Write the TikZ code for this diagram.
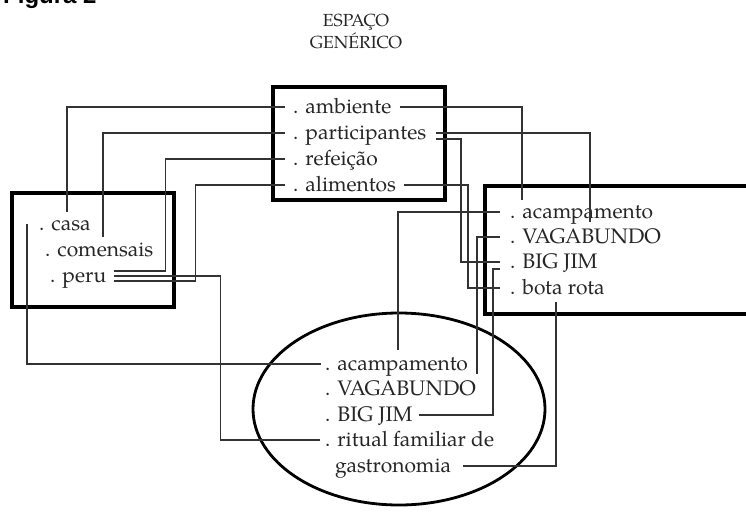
\documentclass[tikz,border=0pt]{standalone}
\usepackage{fontspec}
\setmainfont{TeX Gyre Pagella}
\newfontfamily\figfont{Liberation Sans}
\usetikzlibrary{calc}
\begin{document}
\begin{tikzpicture}[x=1pt,y=-1pt,
  item/.style={inner sep=0pt, text height=12pt, text depth=0pt, anchor=west,
               font=\fontsize{21}{25}\selectfont, text=black!85},
  titletext/.style={inner sep=0pt, anchor=base, font=\fontsize{17.5}{21}\selectfont, text=black!85},
  conn/.style={line width=1.7pt, draw=black!80},
  frame/.style={line width=3.7pt, draw=black},
]
\useasboundingbox (0,0) rectangle (746,514);

% figure label (cut by the top edge, as in the reference)
\node[anchor=base west, inner sep=0pt, font=\figfont\bfseries\fontsize{24}{24}\selectfont] (fig) at (3,4) {Figura 2};

% title
\node[titletext] (t1) at (356,27) {ESPAÇO};
\node[titletext] (t2) at (356,48) {GENÉRICO};

% frames
\draw[frame] (273,87) rectangle (445,200);
\draw[frame] (12,193) rectangle (174,307);
\draw[frame] (485,186) rectangle (770,314);
\draw[line width=2.8pt] (399,409) ellipse [x radius=146, y radius=96];

% generic space items
\node[item] (amb) at (293,107) {. ambiente};
\node[item] (par) at (293,133) {. participantes};
\node[item] (ref) at (293,159) {. refeição};
\node[item] (ali) at (293,185) {. alimentos};

% left input
\node[item] (casa) at (39,224) {. casa};
\node[item] (com) at (45,250) {. comensais};
\node[item] (peru) at (50,276) {. peru};

% right input
\node[item] (racamp) at (510,212) {. acampamento};
\node[item] (rvag) at (510,237) {. VAGABUNDO};
\node[item] (rbig) at (510,262) {. BIG JIM};
\node[item] (rbota) at (510,288) {. bota rota};

% blend
\node[item] (eacamp) at (325,364) {. acampamento};
\node[item] (evag) at (325,389) {. VAGABUNDO};
\node[item] (ebig) at (325,415) {. BIG JIM};
\node[item] (erit) at (325,440) {. ritual familiar de};
\node[item] (egas) at (335,466) {gastronomia};

% helper end points
\coordinate (casaT) at ($(casa.west)+(28,-12)$);
\coordinate (comT) at ($(com.west)+(58,-13)$);
\coordinate (peruA) at ($(peru.east)+(8,-5)$);
\coordinate (peruB) at ($(peru.east)+(8,0)$);
\coordinate (peruC) at ($(peru.east)+(8,5)$);
\coordinate (racT) at ($(racamp.west)+(12,-12)$);
\coordinate (rvagT) at ($(rvag.west)+(80,-15)$);
\coordinate (rbigL) at ($(rbig.west)+(-10,0)$);
\coordinate (rbotaL) at ($(rbota.west)+(-10,0)$);
\coordinate (eacT) at ($(eacamp.west)+(73,-14)$);
\coordinate (evagT) at ($(evag.west)+(152,-15)$);
\coordinate (ebigR) at ([xshift=6pt]ebig.east);
\coordinate (rbotaB) at ($(rbota.west)+(46,14)$);

% connectors, left side
\draw[conn] ([xshift=-8pt]amb.west) -| (casaT);
\draw[conn] ([xshift=-8pt]par.west) -| (comT);
\draw[conn] ([xshift=-8pt]ref.west) -| ([xshift=51pt]peruA) -- (peruA);
\draw[conn] ([xshift=-8pt]ali.west) -| ([xshift=81pt]peruC) -- (peruC);
\draw[conn] ([xshift=-5pt]erit.west) -| ([xshift=106pt]peruB) -- (peruB);
\draw[conn] ([xshift=-12pt]casa.west) |- ([xshift=-4pt]eacamp.west);

% connectors, right side
\draw[conn] ([xshift=8pt]amb.east) -| (racT);
\draw[conn] ([xshift=10pt]par.east) -| (rvagT);
\draw[conn] ($(par.east)+(10,6)$) -| ([xshift=-39pt]rbigL) -- (rbigL);
\draw[conn] ([xshift=8pt]ali.east) -| ([xshift=-32pt]rbotaL) -- (rbotaL);
\draw[conn] ([xshift=-10pt]racamp.west) -| (eacT);
\draw[conn] ([xshift=-10pt]rvag.west) -| (evagT);
\draw[conn] ($(rbig.west)+(-10,7)$) -| ($(rbig.west |- ebigR)+(-17,0)$) -- (ebigR);
\draw[conn] (rbotaB) |- ([xshift=12pt]egas.east);
\end{tikzpicture}
\end{document}
